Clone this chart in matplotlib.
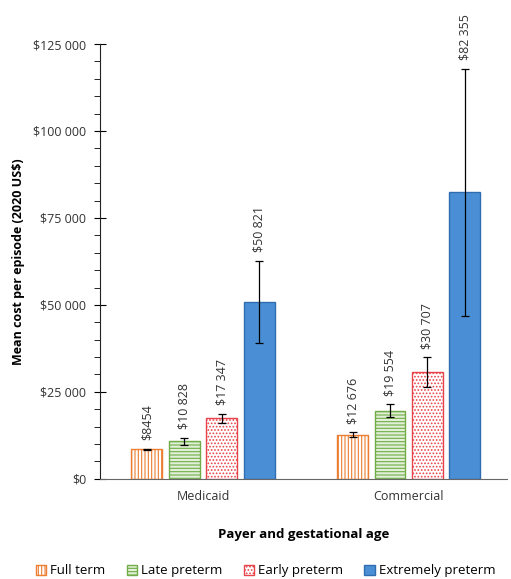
import numpy as np
import matplotlib.pyplot as plt
from matplotlib.ticker import MultipleLocator, FuncFormatter

plt.rcParams['font.family'] = ['Open Sans', 'DejaVu Sans']
plt.rcParams['hatch.linewidth'] = 0.8

payers = ['Medicaid', 'Commercial']
groups = ['Full term', 'Late preterm', 'Early preterm', 'Extremely preterm']
means = {
    'Full term': [8454, 12676],
    'Late preterm': [10828, 19554],
    'Early preterm': [17347, 30707],
    'Extremely preterm': [50821, 82355],
}
errors = {
    'Full term': [250, 650],
    'Late preterm': [1050, 1900],
    'Early preterm': [1350, 4200],
    'Extremely preterm': [11900, 35600],
}

styles = {
    'Full term': dict(facecolor='white', edgecolor='#ed7d31', hatch='|||||'),
    'Late preterm': dict(facecolor='#e2efd9', edgecolor='#70ad47', hatch='-----'),
    'Early preterm': dict(facecolor='white', edgecolor='#e8434a', hatch='.....'),
    'Extremely preterm': dict(facecolor='#4a8fd6', edgecolor='#2f6db0', hatch=None),
}


def money(v):
    v = int(round(v))
    if v < 10000:
        return f'${v}'
    return '$' + f'{v:,}'.replace(',', ' ')


fig = plt.figure(figsize=(5.11, 5.79), dpi=100)
ax = fig.add_axes([0.196, 0.173, 0.797, 0.751])

x = np.arange(len(payers))
width = 0.15
step = 0.182

for i, g in enumerate(groups):
    pos = x + (i - 1.5) * step
    ax.bar(pos, means[g], width, linewidth=1.0, **styles[g], label=g)
    ax.errorbar(pos, means[g], yerr=errors[g], fmt='none', ecolor='black',
                elinewidth=0.9, capsize=3, capthick=0.9)
    for p, m, e in zip(pos, means[g], errors[g]):
        ax.text(p, m + e + 2500, money(m), rotation=90, ha='center',
                va='bottom', fontsize=9, color='#333333', clip_on=False)

ax.set_xlim(-0.5, 1.48)
ax.set_ylim(0, 125000)
ax.set_xticks(x)
ax.set_xticklabels(payers, fontsize=9, color='#333333')
ax.tick_params(axis='x', length=0, pad=8)

ax.yaxis.set_major_locator(MultipleLocator(25000))
ax.yaxis.set_minor_locator(MultipleLocator(5000))
ax.yaxis.set_major_formatter(FuncFormatter(lambda v, _: money(v)))
ax.tick_params(axis='y', which='major', direction='inout', length=8,
               labelsize=9, labelcolor='#333333', pad=6)
ax.tick_params(axis='y', which='minor', direction='out', length=4)

for side in ['top', 'right']:
    ax.spines[side].set_visible(False)
ax.spines['left'].set_color('#222222')
ax.spines['bottom'].set_color('#666666')

ax.set_ylabel('Mean cost per episode (2020 US$)', fontsize=9,
              fontweight='bold', labelpad=6)
ax.set_xlabel('Payer and gestational age', fontsize=9.5, fontweight='bold',
              labelpad=18)

fig.legend(loc='center', bbox_to_anchor=(0.52, 0.014), ncol=4, frameon=False,
           fontsize=9.5, handlelength=0.8, handleheight=0.8,
           handletextpad=0.3, columnspacing=1.6)

fig.savefig('out.png', dpi=100)
